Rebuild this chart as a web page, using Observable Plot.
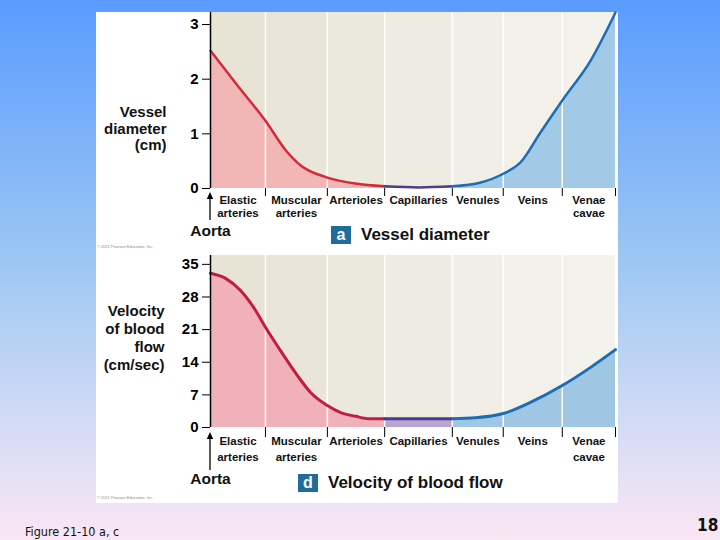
<!DOCTYPE html>
<html>
<head>
<meta charset="utf-8">
<script src="https://cdn.jsdelivr.net/npm/d3@7"></script>
<script src="https://cdn.jsdelivr.net/npm/@observablehq/plot@0.6"></script>
<style>
  html, body { margin: 0; padding: 0; }
  body {
    width: 720px; height: 540px; overflow: hidden; position: relative;
    background: linear-gradient(to bottom, #5a9bff 0%, #9cc7f3 48%, #d2dbf5 78%, #fbe6f4 100%);
    font-family: "Liberation Sans", Arial, Helvetica, sans-serif;
  }
  #panel { position: absolute; left: 96px; top: 12px; width: 522px; height: 491px; background: white; }
  #top, #bottom { position: absolute; left: 0; }
  #top { top: 0; }
  #bottom { top: 238px; }
  svg { overflow: visible; }
  .title { position: absolute; display: flex; align-items: center; gap: 10px; font-weight: bold; font-size: 17px; color: #111; }
  .badge { width: 20px; height: 18px; background: #1f6d9c; color: white; font-size: 16px; font-weight: bold;
           display: flex; align-items: center; justify-content: center; line-height: 1; }
  .copy { position: absolute; left: 1px; font-size: 4px; color: #8a8a8a; white-space: nowrap; }
  .foot { position: absolute; font-family: "DejaVu Sans Condensed", "Liberation Sans Narrow", "Arial Narrow", sans-serif; font-stretch: condensed; color: #111; }
</style>
</head>
<body>
<div id="panel">
  <div id="top"></div>
  <div id="bottom"></div>
  <div class="title" style="left:235px; top:213px;"><div class="badge">a</div><div>Vessel diameter</div></div>
  <div class="title" style="left:202px; top:461px;"><div class="badge">d</div><div>Velocity of blood flow</div></div>
  <div class="copy" style="top:232px;">© 2011 Pearson Education, Inc.</div>
  <div class="copy" style="top:483px;">© 2011 Pearson Education, Inc.</div>
</div>
<div class="foot" style="left:25px; top:524px; font-size:12.5px;">Figure 21-10 a, c</div>
<div class="foot" style="left:697px; top:515px; font-size:17px; font-weight:bold;">18</div>
<script>
// ---- data ----
const categories = ["Elastic\narteries", "Muscular\narteries", "Arterioles", "Capillaries", "Venules", "Veins", "Venae\ncavae"];
const edges = [0, 0.95, 2.02, 3.01, 4.18, 5.06, 6.08, 7];
const diameterTicks = [0, 1, 2, 3];
const velocityTicks = [0, 7, 14, 21, 28, 35];
const diameterX = [0, 0.47, 0.95, 1.30, 1.56, 2.02, 2.5, 3.01, 3.6, 4.18, 4.67, 5.06, 5.36, 5.70, 6.08, 6.57, 7];
const diameterY = [2.52, 1.88, 1.24, 0.70, 0.42, 0.20, 0.09, 0.04, 0.02, 0.04, 0.11, 0.27, 0.48, 1.02, 1.61, 2.34, 3.22];
const velocityX = [0, 0.26, 0.52, 0.78, 0.95, 1.21, 1.50, 1.73, 2.02, 2.25, 2.51, 2.73, 3.01, 3.6, 4.18, 4.58, 5.06, 5.53, 6.08, 6.57, 7];
const velocityY = [33.1, 32.0, 29.4, 25.1, 21.5, 16.5, 11.2, 7.5, 4.7, 3.2, 2.4, 1.9, 1.9, 1.9, 1.9, 2.1, 3.0, 5.4, 9.0, 12.9, 16.7];

// ---- styles ----
const bgShades = ["#e7e3d5", "#e9e5d8", "#ebe8dc", "#eeebe2", "#f0eee6", "#f2f0e9", "#f4f2ec"];
const font = "'Liberation Sans', Arial, Helvetica, sans-serif";

function grouped(xs, ys) {
  const pts = xs.map((x, i) => ({x, y: ys[i]}));
  return [
    ...pts.filter(d => d.x <= edges[3]).map(d => ({...d, g: "artery"})),
    ...pts.filter(d => d.x >= edges[3] && d.x <= edges[4]).map(d => ({...d, g: "capillary"})),
    ...pts.filter(d => d.x >= edges[4]).map(d => ({...d, g: "vein"}))
  ];
}

function aortaArrow(gap, len) {
  return (index, scales, values, dimensions) => {
    const x = scales.x(edges[0]);
    const y0 = dimensions.height - dimensions.marginBottom + gap;
    const g = d3.create("svg:g");
    g.append("line").attr("x1", x).attr("x2", x).attr("y1", y0 + len).attr("y2", y0 + 4)
      .attr("stroke", "black").attr("stroke-width", 1.3);
    g.append("path").attr("d", `M${x - 3.2},${y0 + 7}L${x},${y0}L${x + 3.2},${y0 + 7}Z`).attr("fill", "black");
    return g.node();
  };
}

function chart(o) {
  const data = grouped(o.xs, o.ys);
  const fills = {artery: o.colors[0], capillary: o.colors[2], vein: o.colors[4]};
  const strokes = {artery: o.colors[1], capillary: o.colors[3], vein: o.colors[5]};
  return Plot.plot({
    width: 522, height: o.height,
    marginLeft: 114, marginRight: 3, marginTop: o.marginTop, marginBottom: o.marginBottom,
    style: {fontFamily: font, color: "black", background: "transparent", overflow: "visible"},
    x: {domain: [0, 7]},
    y: {domain: [0, o.yTop]},
    color: {type: "identity"},
    marks: [
      Plot.rect(categories, {x1: (d, i) => edges[i], x2: (d, i) => edges[i + 1], y1: 0, y2: o.yTop, fill: (d, i) => bgShades[i]}),
      ...["artery", "capillary", "vein"].map(k =>
        Plot.areaY(data.filter(d => d.g === k), {x: "x", y: "y", fill: fills[k], curve: "monotone-x"})),
      Plot.ruleX(edges.slice(1, -1), {stroke: "white", strokeWidth: 1.5}),
      ...["artery", "capillary", "vein"].map(k =>
        Plot.lineY(data.filter(d => d.g === k), {x: "x", y: "y", stroke: strokes[k], strokeWidth: o.lineWidth, curve: "monotone-x"})),
      Plot.ruleX([edges[0]], {stroke: "black", strokeWidth: 1.5}),
      Plot.axisY({ticks: o.ticks, tickFormat: d => String(d), tickSize: 8, tickPadding: 4, fontSize: 15, fontWeight: "bold", label: null}),
      Plot.axisX({ticks: edges.slice(1), tickSize: o.xTick, tickFormat: () => "", label: null}),
      Plot.text(categories, {x: (d, i) => (edges[i] + edges[i + 1]) / 2, text: d => d, frameAnchor: "bottom",
        lineAnchor: "top", dy: 6, fontSize: 11.5, fontWeight: "bold", lineHeight: o.catLine, fill: "#111"}),
      Plot.text([o.label], {text: d => d, frameAnchor: "left", textAnchor: "end", dx: o.labelDx, dy: o.labelDy,
        fontSize: 15, fontWeight: "bold", lineHeight: o.labelLine, fill: "#111"}),
      Plot.text(["Aorta"], {x: edges[0], text: d => d, frameAnchor: "bottom", dy: o.aortaDy, fontSize: 15.5, fontWeight: "bold", fill: "#111"}),
      aortaArrow(o.arrowGap, o.arrowLen)
    ]
  });
}

document.getElementById("top").append(chart({
  xs: diameterX, ys: diameterY, yTop: 3.22, ticks: diameterTicks,
  height: 238, marginTop: 0, marginBottom: 62, lineWidth: 2.5, xTick: 8, catLine: 1.15,
  label: "Vessel\ndiameter\n(cm)", labelDx: -44, labelDy: 28, labelLine: 1.1,
  aortaDy: 47, arrowGap: 4, arrowLen: 28,
  colors: ["#f2b6b6", "#d42a3c", "#b9a9da", "#4b3f8c", "#a2c9e5", "#1d6db3"]
}));

document.getElementById("bottom").append(chart({
  xs: velocityX, ys: velocityY, yTop: 36.9, ticks: velocityTicks,
  height: 253, marginTop: 5, marginBottom: 76, lineWidth: 3, xTick: 10, catLine: 1.4,
  label: "Velocity\nof blood\nflow\n(cm/sec)", labelDx: -46, labelDy: -4, labelLine: 1.2,
  aortaDy: 56, arrowGap: 5, arrowLen: 38,
  colors: ["#f0b2b8", "#c01d45", "#b7a5d8", "#4a3a8a", "#9fc7e4", "#1d6db3"]
}));
</script>
</body>
</html>
